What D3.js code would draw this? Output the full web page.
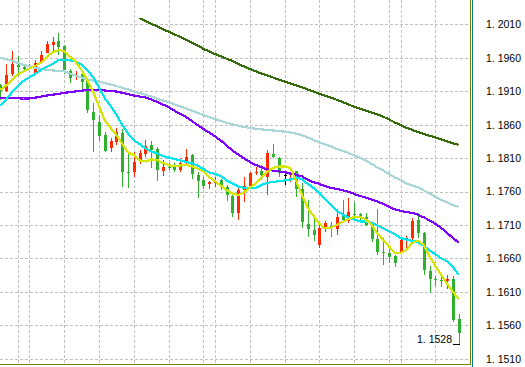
<!DOCTYPE html>
<html><head><meta charset="utf-8">
<script src="https://cdn.jsdelivr.net/npm/d3@7"></script>
<style>html,body{margin:0;padding:0;background:#fff;}svg{display:block;}</style>
</head><body>
<svg id="c" width="525" height="367"></svg>
<script>
// ---- data ----
const opens = [1.19198,1.19096,1.19358,1.19499,1.19455,1.19470,1.19377,1.19541,1.19676,1.19795,1.19851,1.19776,1.19407,1.19320,1.19358,1.19253,1.18785,1.18640,1.18446,1.18248,1.18346,1.18472,1.17898,1.17898,1.18047,1.18162,1.18297,1.18237,1.17913,1.17973,1.17973,1.17923,1.18023,1.18147,1.17849,1.17774,1.17710,1.17725,1.17774,1.17674,1.17535,1.17277,1.17625,1.17684,1.17874,1.17913,1.17823,1.18162,1.18098,1.17849,1.17844,1.17908,1.17635,1.17117,1.17027,1.16803,1.17067,1.17087,1.17042,1.17236,1.17166,1.17266,1.17262,1.17226,1.17127,1.16888,1.16698,1.16679,1.16639,1.16679,1.16888,1.16903,1.17177,1.16978,1.16415,1.16288,1.16273,1.16265,1.16291,1.15693];
const highs = [1.19201,1.19507,1.19701,1.19631,1.19470,1.19507,1.19567,1.19701,1.19855,1.19915,1.19975,1.19791,1.19425,1.19402,1.19392,1.19260,1.18917,1.18745,1.18487,1.18397,1.18546,1.18531,1.18197,1.18197,1.18222,1.18372,1.18361,1.18271,1.18073,1.18023,1.18023,1.18098,1.18237,1.18162,1.17898,1.17823,1.17764,1.17823,1.17784,1.17699,1.17575,1.17650,1.17823,1.17898,1.17973,1.17998,1.18222,1.18312,1.18122,1.17913,1.17898,1.17913,1.17725,1.17475,1.17202,1.17127,1.17166,1.17151,1.17336,1.17475,1.17501,1.17450,1.17286,1.17286,1.17151,1.17336,1.16908,1.16754,1.16654,1.16888,1.16937,1.17202,1.17286,1.17002,1.16489,1.16340,1.16320,1.16350,1.16340,1.15768];
const lows = [1.18974,1.19089,1.19328,1.19328,1.19407,1.19417,1.19368,1.19517,1.19667,1.19686,1.19641,1.19358,1.19216,1.19268,1.19126,1.18767,1.18197,1.18357,1.18188,1.18188,1.18297,1.17674,1.17655,1.17823,1.18013,1.18122,1.17949,1.17764,1.17838,1.17923,1.17898,1.17898,1.17998,1.17784,1.17510,1.17640,1.17632,1.17674,1.17625,1.17465,1.17217,1.17176,1.17450,1.17674,1.17849,1.17774,1.17550,1.18098,1.17823,1.17699,1.17749,1.17525,1.17052,1.16927,1.16867,1.16754,1.17002,1.16918,1.16952,1.17151,1.17127,1.17226,1.17177,1.17087,1.16852,1.16654,1.16504,1.16530,1.16479,1.16669,1.16754,1.16878,1.16903,1.16355,1.16081,1.16195,1.16180,1.16141,1.15648,1.15320];
const closes = [1.19104,1.19343,1.19507,1.19462,1.19432,1.19485,1.19526,1.19641,1.19810,1.19840,1.19765,1.19417,1.19290,1.19335,1.19243,1.18812,1.18675,1.18436,1.18212,1.18357,1.18487,1.17889,1.17879,1.18047,1.18182,1.18282,1.18222,1.17923,1.17973,1.17958,1.17923,1.18032,1.18113,1.17859,1.17759,1.17689,1.17737,1.17749,1.17689,1.17550,1.17286,1.17625,1.17684,1.17883,1.17898,1.17844,1.18182,1.18113,1.17874,1.17849,1.17874,1.17640,1.17151,1.17038,1.16952,1.17052,1.17127,1.17067,1.17226,1.17177,1.17291,1.17251,1.17236,1.17102,1.16893,1.16703,1.16676,1.16619,1.16539,1.16878,1.16903,1.17166,1.16978,1.16430,1.16295,1.16273,1.16258,1.16295,1.15683,1.15493];

const maYellow = [1.19118,1.19186,1.19268,1.19350,1.19395,1.19440,1.19477,1.19522,1.19611,1.19679,1.19716,1.19701,1.19619,1.19537,1.19417,1.19268,1.19089,1.18879,1.18670,1.18551,1.18446,1.18319,1.18185,1.18147,1.18065,1.18050,1.18080,1.18073,1.18028,1.17998,1.17976,1.17990,1.17998,1.17976,1.17946,1.17901,1.17819,1.17751,1.17692,1.17624,1.17572,1.17550,1.17587,1.17662,1.17714,1.17804,1.17893,1.17953,1.17973,1.17973,1.17953,1.17759,1.17550,1.17356,1.17236,1.17116,1.17049,1.17057,1.17102,1.17146,1.17191,1.17221,1.17226,1.17184,1.17102,1.16975,1.16877,1.16780,1.16683,1.16679,1.16728,1.16833,1.16867,1.16803,1.16623,1.16489,1.16355,1.16228,1.16101,1.15992];
const maCyan = [1.18879,1.18977,1.19081,1.19178,1.19253,1.19305,1.19357,1.19417,1.19462,1.19507,1.19567,1.19567,1.19562,1.19544,1.19499,1.19417,1.19313,1.19156,1.18999,1.18879,1.18752,1.18596,1.18469,1.18371,1.18312,1.18247,1.18203,1.18170,1.18132,1.18110,1.18088,1.18065,1.18043,1.18023,1.17990,1.17938,1.17886,1.17863,1.17834,1.17766,1.17722,1.17677,1.17654,1.17651,1.17654,1.17699,1.17729,1.17744,1.17754,1.17766,1.17781,1.17811,1.17781,1.17714,1.17654,1.17580,1.17490,1.17400,1.17311,1.17258,1.17214,1.17184,1.17154,1.17151,1.17134,1.17094,1.17049,1.17004,1.16967,1.16903,1.16885,1.16862,1.16840,1.16788,1.16721,1.16661,1.16601,1.16556,1.16474,1.16355];
const maPurple = [1.19003,1.19000,1.18997,1.18994,1.18990,1.18990,1.19003,1.19018,1.19035,1.19047,1.19059,1.19074,1.19086,1.19096,1.19108,1.19118,1.19118,1.19118,1.19111,1.19103,1.19096,1.19077,1.19056,1.19036,1.19021,1.19006,1.18977,1.18944,1.18902,1.18864,1.18809,1.18760,1.18715,1.18655,1.18596,1.18536,1.18483,1.18424,1.18364,1.18289,1.18215,1.18155,1.18095,1.18043,1.17998,1.17964,1.17931,1.17913,1.17901,1.17889,1.17871,1.17853,1.17826,1.17774,1.17741,1.17714,1.17681,1.17654,1.17639,1.17620,1.17595,1.17565,1.17535,1.17509,1.17483,1.17450,1.17415,1.17370,1.17336,1.17311,1.17293,1.17281,1.17255,1.17214,1.17169,1.17116,1.17057,1.16982,1.16907,1.16837];
const maPowder = [1.19601,1.19580,1.19559,1.19522,1.19495,1.19473,1.19449,1.19434,1.19417,1.19410,1.19405,1.19395,1.19365,1.19334,1.19305,1.19275,1.19260,1.19242,1.19223,1.19201,1.19178,1.19151,1.19129,1.19096,1.19074,1.19044,1.19021,1.18991,1.18962,1.18939,1.18905,1.18872,1.18842,1.18809,1.18778,1.18745,1.18715,1.18685,1.18655,1.18628,1.18606,1.18585,1.18566,1.18551,1.18540,1.18530,1.18521,1.18513,1.18506,1.18495,1.18483,1.18466,1.18439,1.18409,1.18371,1.18334,1.18304,1.18274,1.18237,1.18207,1.18177,1.18140,1.18103,1.18065,1.18013,1.17961,1.17916,1.17863,1.17811,1.17774,1.17722,1.17692,1.17662,1.17617,1.17572,1.17520,1.17478,1.17438,1.17400,1.17370];
const maDarkGreen = [null,null,null,null,null,null,null,null,null,null,null,null,null,null,null,null,null,null,null,null,null,null,null,null,1.20190,1.20149,1.20109,1.20070,1.20030,1.19989,1.19952,1.19910,1.19871,1.19828,1.19783,1.19734,1.19694,1.19656,1.19622,1.19585,1.19552,1.19510,1.19470,1.19432,1.19398,1.19365,1.19335,1.19305,1.19275,1.19245,1.19216,1.19186,1.19159,1.19126,1.19093,1.19063,1.19033,1.19002,1.18972,1.18939,1.18902,1.18867,1.18838,1.18812,1.18782,1.18752,1.18720,1.18678,1.18633,1.18593,1.18554,1.18521,1.18491,1.18461,1.18434,1.18409,1.18379,1.18349,1.18322,1.18297];

const tickValues = [1.2010,1.1960,1.1910,1.1860,1.1810,1.1760,1.1710,1.1660,1.1610,1.1560,1.1510];
const gridBars = [3,5,11,17,23,29,35,37,43,49,55,61,67,69,75];
const lowLabel = "1.1528";

// ---- drawing ----
const svg = d3.select("#c");
const W = 470, H = 364;
const n = opens.length;
const x = d3.scaleLinear().domain([0, n - 1]).range([0.3, 458.6]);
const y = d3.scaleLinear().domain([1.1510, 1.2010]).range([358.8, 24.3]);
const fmt = v => v.toFixed(4).replace(".", ". ");

svg.append("defs").append("clipPath").attr("id", "plot")
  .append("rect").attr("x", 0).attr("y", 0).attr("width", W).attr("height", H);

const plot = svg.append("g").attr("clip-path", "url(#plot)");

// grid
const grid = plot.append("g").attr("stroke", "#c0c0c0").attr("stroke-width", 1)
  .attr("stroke-dasharray", "3,2").attr("shape-rendering", "crispEdges");
grid.selectAll("line.h").data(tickValues).join("line").attr("class", "h")
  .attr("x1", 0).attr("x2", W).attr("y1", d => Math.round(y(d)) + 0.5).attr("y2", d => Math.round(y(d)) + 0.5);
grid.selectAll("line.v").data(gridBars).join("line").attr("class", "v")
  .attr("y1", 0).attr("y2", H).attr("x1", d => Math.round(x(d)) + 0.5).attr("x2", d => Math.round(x(d)) + 0.5);

// candles
const bars = d3.range(n).map(i => ({i, o: opens[i], h: highs[i], l: lows[i], c: closes[i]}));
const col = d => d.c > d.o ? "#ff2a00" : (d.c < d.o ? "#2fb02f" : "#000000");
const cg = plot.append("g").attr("shape-rendering", "crispEdges");
cg.selectAll("rect.w").data(bars).join("rect").attr("class", "w")
  .attr("x", d => Math.round(x(d.i)))
  .attr("width", 1)
  .attr("y", d => Math.round(y(d.h)))
  .attr("height", d => Math.max(1, Math.round(y(d.l)) - Math.round(y(d.h))))
  .attr("fill", col);
cg.selectAll("rect.b").data(bars).join("rect").attr("class", "b")
  .attr("x", d => Math.round(x(d.i)) - 1)
  .attr("width", 3)
  .attr("y", d => Math.round(y(Math.max(d.o, d.c))))
  .attr("height", d => Math.max(1, Math.round(y(Math.min(d.o, d.c))) - Math.round(y(Math.max(d.o, d.c)))))
  .attr("fill", col);

// moving averages
const line = d3.line().defined(d => d != null).x((d, i) => x(i)).y(d => y(d));
const series = [
  {v: maPowder, c: "#a9d6d6"},
  {v: maDarkGreen, c: "#346b06"},
  {v: maPurple, c: "#8000ff"},
  {v: maCyan, c: "#00e5ee"},
  {v: maYellow, c: "#d6e600"}
];
plot.selectAll("path.ma").data(series).join("path").attr("class", "ma")
  .attr("d", d => line(d.v)).attr("fill", "none").attr("stroke", d => d.c)
  .attr("stroke-width", 2.2).attr("stroke-linejoin", "round")
  .attr("shape-rendering", "crispEdges");

// low label
const last = bars[n - 1];
const ly = Math.round(y(last.l)) + 0.5;
plot.append("line").attr("x1", Math.round(x(last.i)) - 6).attr("x2", Math.round(x(last.i)) + 1)
  .attr("y1", ly).attr("y2", ly).attr("stroke", "#000").attr("shape-rendering", "crispEdges");
plot.append("text").attr("x", Math.round(x(last.i)) - 7).attr("y", ly - 2)
  .attr("text-anchor", "end").attr("font-family", "Liberation Sans, Arial, sans-serif")
  .attr("font-size", "10.5px").attr("fill", "#000").text(fmt(+lowLabel));

// frame
svg.append("line").attr("x1", 0).attr("x2", W + 1).attr("y1", H + 0.5).attr("y2", H + 0.5)
  .attr("stroke", "#808000").attr("shape-rendering", "crispEdges");
svg.append("line").attr("x1", W + 0.5).attr("x2", W + 0.5).attr("y1", 0).attr("y2", H + 1)
  .attr("stroke", "#808000").attr("shape-rendering", "crispEdges");
svg.append("line").attr("x1", W + 2.5).attr("x2", W + 2.5).attr("y1", 0).attr("y2", 367)
  .attr("stroke", "#008080").attr("shape-rendering", "crispEdges");

// price axis
const axis = d3.axisRight(y).tickValues(tickValues).tickSize(0).tickPadding(0).tickFormat(fmt);
const ag = svg.append("g").attr("transform", "translate(486,0)").call(axis);
ag.select(".domain").remove();
ag.selectAll("text").attr("font-family", "Liberation Sans, Arial, sans-serif")
  .attr("font-size", "10.5px").attr("fill", "#000");
</script>
</body></html>
